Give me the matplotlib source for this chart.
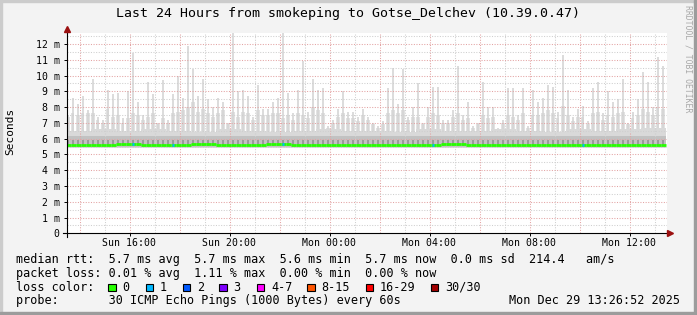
import numpy as np
import matplotlib
matplotlib.use("Agg")
import matplotlib.pyplot as plt
from matplotlib.patches import Rectangle

plt.rcParams['font.family'] = ['DejaVu Sans Mono']

W, H = 697, 315

# smoke peak per 12 min step (ms), Sun 13:27 -> Mon 13:27
peak_ms = [7.5, 8.6, 8.2, 8.7, 7.8, 9.8, 7.4, 7.2, 9.1, 8.8,
           8.9, 7.3, 9.0, 11.4, 8.3, 7.5, 9.6, 8.8, 7.0, 9.7,
           7.2, 8.8, 10.0, 8.6, 11.9, 10.4, 8.7, 9.8, 8.5, 8.0,
           8.6, 8.3, 7.0, 12.7, 9.0, 9.1, 8.7, 7.4, 9.4, 7.9,
           7.9, 8.3, 8.6, 12.7, 8.9, 7.6, 9.1, 10.9, 7.7, 9.8,
           9.1, 9.2, 6.8, 7.2, 7.9, 9.0, 7.7, 7.7, 7.4, 7.9,
           7.4, 7.0, 6.8, 7.1, 9.2, 10.5, 8.2, 10.4, 7.4, 8.0,
           9.5, 7.0, 8.0, 9.3, 9.3, 7.2, 7.2, 7.8, 10.6, 7.5,
           8.3, 6.8, 7.0, 9.6, 8.0, 8.0, 6.7, 7.2, 9.2, 9.2,
           7.5, 9.2, 6.8, 9.1, 8.3, 8.6, 9.4, 9.3, 7.7, 11.3,
           9.1, 7.4, 7.9, 8.1, 7.1, 9.2, 9.6, 7.6, 9.0, 8.3,
           8.5, 9.8, 7.0, 7.7, 8.5, 10.2, 9.6, 8.0, 11.2, 10.6]

# top of the wider light smoke blocks per step (ms)
upper_ms = [7.4, 7.6, 7.5, 7.6, 7.6, 7.6, 7.2, 7.0, 7.9, 7.4,
            7.5, 7.0, 7.3, 7.6, 7.5, 7.2, 7.4, 7.6, 6.9, 7.3,
            7.0, 7.6, 7.7, 7.8, 8.0, 8.3, 7.7, 7.9, 7.6, 7.4,
            7.6, 7.8, 6.9, 7.7, 7.4, 7.7, 7.6, 7.2, 7.8, 7.5,
            7.5, 7.6, 7.6, 7.3, 7.5, 7.2, 7.6, 7.5, 7.3, 8.0,
            7.8, 7.6, 6.7, 7.0, 7.4, 7.6, 7.3, 7.3, 7.1, 7.5,
            7.2, 6.9, 6.7, 6.9, 7.6, 7.8, 7.6, 7.8, 7.2, 7.4,
            7.4, 6.9, 7.4, 7.6, 7.5, 7.0, 7.0, 7.4, 7.6, 7.2,
            7.3, 6.7, 6.9, 7.5, 7.3, 7.4, 6.6, 7.0, 7.5, 7.4,
            7.2, 7.6, 6.7, 7.5, 7.5, 7.6, 7.8, 7.6, 7.3, 8.1,
            7.5, 7.1, 7.4, 7.4, 6.9, 7.6, 7.7, 7.2, 7.5, 7.4,
            7.6, 7.7, 6.9, 7.3, 7.5, 7.9, 7.7, 7.5, 8.0, 7.9]

# hourly levels of the dense smoke and the median (ms)
mid_top = [6.5, 6.6, 6.5, 6.6, 6.5, 6.4, 6.6, 6.5, 6.4, 6.5, 6.6, 6.5,
           6.5, 6.4, 6.6, 6.5, 6.5, 6.6, 6.5, 6.4, 6.6, 6.5, 6.6, 6.7]
median_ms = [5.62, 5.62, 5.63, 5.61, 5.62, 5.63, 5.62, 5.62, 5.63, 5.62, 5.61, 5.62,
             5.62, 5.62, 5.62, 5.63, 5.62, 5.62, 5.61, 5.62, 5.62, 5.62, 5.62, 5.62]

# steps where 1 of 30 pings was lost
loss_steps = [13, 21, 43, 73, 103]

tick_hours = [16, 20, 24, 28, 32, 36]
tick_labels = ["Sun 16:00", "Sun 20:00", "Mon 00:00", "Mon 04:00", "Mon 08:00", "Mon 12:00"]

rtt_stats = [5.7, 5.7, 5.6, 5.7, 0.0]
am_s = 214.4
loss_stats = [0.01, 1.11, 0.00, 0.00]
loss_names = ["0", "1", "2", "3", "4-7", "8-15", "16-29", "30/30"]
loss_colors = ["#26ff00", "#00b8ff", "#0059ff", "#7e00ff", "#ff00ff", "#ff5500", "#ff0000", "#a10000"]

t0, step = 13.45, 0.2
xmin, xmax = 13.5, 37.5
ytop = 12.73

fig = plt.figure(figsize=(W / 100, H / 100), dpi=100, facecolor="#f3f3f3")

# frame
fig.patches.append(Rectangle((0, 0), 2 / W, 1, transform=fig.transFigure, color="#cccccc"))
fig.patches.append(Rectangle((0, 1 - 2 / H), 1, 2 / H, transform=fig.transFigure, color="#cccccc"))
fig.patches.append(Rectangle((1 - 3 / W, 0), 3 / W, 1, transform=fig.transFigure, color="#9c9c9c"))
fig.patches.append(Rectangle((0, 0), 1, 3 / H, transform=fig.transFigure, color="#9c9c9c"))

ax = fig.add_axes([67 / W, 1 - 233.3 / H, 600 / W, (233.3 - 32.5) / H])
ax.set_facecolor("white")
ax.set_xlim(xmin, xmax)
ax.set_ylim(0, ytop)
for s in ax.spines.values():
    s.set_visible(False)

n = len(peak_ms)
left = t0 + step * np.arange(n)
hour_idx = np.arange(n) // 5
peak = np.array(peak_ms)
upper = np.array(upper_ms)
mt = np.array(mid_top)[hour_idx]
med = np.array(median_ms)[hour_idx]
base = 5.42

# smoke, lightest first
ax.bar(left + step * 0.3, peak - base, bottom=base, width=step * 0.35, align="edge",
       color="#dcdcdc", linewidth=0, zorder=1)
ax.bar(left + step * 0.05, upper - base, bottom=base, width=step * 0.7, align="edge",
       color="#e2e2e2", linewidth=0, zorder=1.2)
ax.bar(left + step * 0.3, upper - base, bottom=base, width=step * 0.35, align="edge",
       color="#d6d6d6", linewidth=0, zorder=1.3)
ax.bar(left, mt - base, bottom=base, width=step, align="edge", color="#d9d9d9", linewidth=0, zorder=1.5)
ax.bar(left, 6.15 - 5.5, bottom=5.5, width=step, align="edge", color="#c2c2c2", linewidth=0, zorder=2)
ax.bar(left + step * 0.2, 5.9 - 5.55, bottom=5.55, width=step * 0.5, align="edge",
       color="#9a9a9a", linewidth=0, zorder=2.5)

# grid
for h in range(14, 38):
    col = "#e3a3a3" if h % 2 == 0 else "#cfcfcf"
    ax.axvline(h, color=col, lw=0.75, ls=(0, (1, 1.5)), zorder=4)
for v in np.arange(0.5, ytop, 0.5):
    col = "#e3a3a3" if v % 1 == 0 else "#cfcfcf"
    ax.axhline(v, color=col, lw=0.75, ls=(0, (1, 1.5)), zorder=4)

# median line
ax.hlines(med, left, left + step, color=loss_colors[0], lw=2.0, zorder=5)
for i in loss_steps:
    ax.hlines(med[i], left[i] + 0.06, left[i] + 0.12, color=loss_colors[1], lw=2.0, zorder=6)

# axes with arrows
ax.plot([13.33, 37.58], [0, 0], color="black", lw=0.8, clip_on=False, zorder=7)
ax.plot([13.5, 13.5], [-0.25, 12.9], color="black", lw=0.8, clip_on=False, zorder=7)
ax.plot([37.62], [0], marker=">", ms=4.5, color="#9b1010", clip_on=False, zorder=8)
ax.plot([13.5], [12.98], marker="^", ms=4.5, color="#9b1010", clip_on=False, zorder=8)

ax.set_xticks(tick_hours)
ax.set_xticklabels(tick_labels)
ax.set_yticks(range(13))
ax.set_yticklabels(["0"] + ["%d m" % v for v in range(1, 13)])
ax.tick_params(axis="both", labelsize=7.1, length=2.2, width=0.7, color="black")
ax.tick_params(axis="x", pad=1.5)
ax.tick_params(axis="y", pad=3)

fig.text(347.5 / W, 1 - 13.5 / H, "Last 24 Hours from smokeping to Gotse_Delchev (10.39.0.47)",
         ha="center", va="center", fontsize=9.5)
fig.text(10.3 / W, 1 - 131.5 / H, "Seconds", rotation=90, ha="center", va="center", fontsize=8)
fig.text(688 / W, 1 - 59 / H, "RRDTOOL / TOBI OETIKER", rotation=270, ha="center", va="center",
         fontsize=5.9, color="#a8a8a8")

fs = 8.5
row1 = "median rtt:  %.1f ms avg  %.1f ms max  %.1f ms min  %.1f ms now  %.1f ms sd  %.1f   am/s" % (
    *rtt_stats, am_s)
row2 = "packet loss: %.2f %% avg  %.2f %% max  %.2f %% min  %.2f %% now" % tuple(loss_stats)
fig.text(16 / W, 1 - 259.3 / H, row1, ha="left", va="center", fontsize=fs)
fig.text(16 / W, 1 - 273.3 / H, row2, ha="left", va="center", fontsize=fs)
fig.text(16 / W, 1 - 287.3 / H, "loss color:", ha="left", va="center", fontsize=fs)
box_x = [108.3, 145.7, 182.7, 219.3, 256.7, 307.3, 365.7, 430.7]
for bx, name, col in zip(box_x, loss_names, loss_colors):
    fig.patches.append(Rectangle((bx / W, 1 - 291.2 / H), 7.7 / W, 7.7 / H, transform=fig.transFigure,
                                 facecolor=col, edgecolor="black", lw=0.8))
    fig.text((bx + 14.2) / W, 1 - 287.3 / H, name, ha="left", va="center", fontsize=fs)
fig.text(16 / W, 1 - 300.7 / H, "probe:       30 ICMP Echo Pings (1000 Bytes) every 60s",
         ha="left", va="center", fontsize=fs)
fig.text(680 / W, 1 - 300.7 / H, "Mon Dec 29 13:26:52 2025", ha="right", va="center", fontsize=fs)

fig.savefig("out.png", dpi=100, facecolor=fig.get_facecolor())
